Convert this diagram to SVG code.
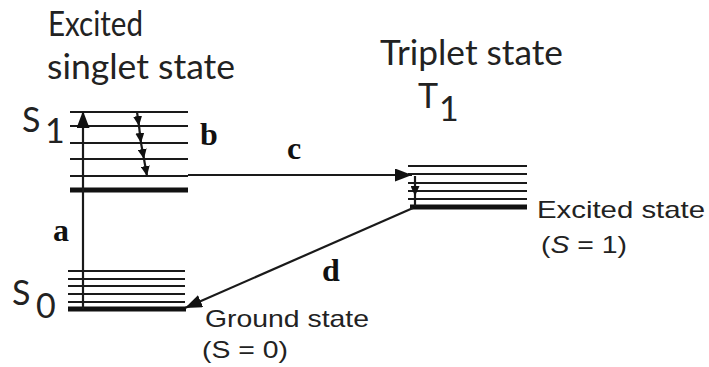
<svg xmlns="http://www.w3.org/2000/svg" width="709" height="367" viewBox="0 0 709 367">
<style>
.lvl{stroke:#1a1a1a;stroke-width:2.2;fill:none}
.thick{stroke:#111;stroke-width:5;fill:none}
.conn{stroke:#1a1a1a;stroke-width:2.2;fill:none}
.cal{font-family:Lato,"Open Sans",sans-serif;font-size:34px;fill:#222}
.ari{font-family:"Liberation Sans",Arial,sans-serif;font-size:24px;fill:#222}
.lab{font-family:"Liberation Serif","Times New Roman",serif;font-weight:bold;font-size:32px;fill:#111}
</style>
<defs>
<marker id="ah" markerUnits="userSpaceOnUse" markerWidth="17" markerHeight="13" refX="17" refY="6.5" orient="auto">
<path d="M0,0 L17,6.5 L0,13 z" fill="#111"/>
</marker>
<marker id="sh" markerUnits="userSpaceOnUse" markerWidth="10" markerHeight="9" refX="10" refY="4.5" orient="auto">
<path d="M0,0 L10,4.5 L0,9 z" fill="#111"/>
</marker>
</defs>
<rect width="709" height="367" fill="#fff"/>
<g id="title-singlet">
<text class="cal" x="48" y="36" textLength="95" lengthAdjust="spacingAndGlyphs">Excited</text>
<text class="cal" x="47" y="79" textLength="188" lengthAdjust="spacingAndGlyphs">singlet state</text>
</g>
<g id="title-triplet">
<text class="cal" x="380" y="65" textLength="183" lengthAdjust="spacingAndGlyphs">Triplet state</text>
<text class="cal" x="418" y="108">T</text>
<text class="cal" x="439" y="121">1</text>
</g>
<g id="S1">
<text class="cal" x="22" y="132">S</text>
<text class="cal" x="45" y="143">1</text>
<line class="lvl" x1="70" y1="112" x2="188" y2="112"/>
<line class="lvl" x1="70" y1="126" x2="188" y2="126"/>
<line class="lvl" x1="70" y1="143" x2="188" y2="143"/>
<line class="lvl" x1="70" y1="159" x2="188" y2="159"/>
<line class="lvl" x1="70" y1="176" x2="188" y2="176"/>
<line class="thick" x1="70" y1="190" x2="188" y2="190"/>
</g>
<g id="S0">
<text class="cal" x="12" y="305">S</text>
<text class="cal" x="36" y="318">0</text>
<line class="lvl" x1="68" y1="271" x2="185" y2="271"/>
<line class="lvl" x1="68" y1="279" x2="185" y2="279"/>
<line class="lvl" x1="68" y1="286" x2="185" y2="286"/>
<line class="lvl" x1="68" y1="294" x2="185" y2="294"/>
<line class="lvl" x1="68" y1="302" x2="185" y2="302"/>
<line class="thick" x1="68" y1="309" x2="186" y2="309"/>
</g>
<g id="T1">
<line class="lvl" x1="408" y1="166" x2="527" y2="166"/>
<line class="lvl" x1="408" y1="174" x2="527" y2="174"/>
<line class="lvl" x1="408" y1="183" x2="527" y2="183"/>
<line class="lvl" x1="408" y1="191" x2="527" y2="191"/>
<line class="lvl" x1="408" y1="199" x2="527" y2="199"/>
<line class="thick" x1="410" y1="207" x2="527" y2="207"/>
</g>
<g id="state-labels">
<text class="ari" x="537" y="218" textLength="168" lengthAdjust="spacingAndGlyphs">Excited state</text>
<text class="ari" x="541" y="253" textLength="86" lengthAdjust="spacingAndGlyphs">(<tspan font-style="italic">S</tspan> = 1)</text>
<text class="ari" x="205" y="327" textLength="164" lengthAdjust="spacingAndGlyphs">Ground state</text>
<text class="ari" x="202" y="358" textLength="86" lengthAdjust="spacingAndGlyphs">(S = 0)</text>
</g>
<g id="connectors">
<line class="conn" x1="83" y1="309" x2="83" y2="111" marker-end="url(#ah)"/>
<line class="conn" x1="137" y1="112" x2="139" y2="126" marker-end="url(#sh)"/>
<line class="conn" x1="139" y1="126" x2="141" y2="143" marker-end="url(#sh)"/>
<line class="conn" x1="141" y1="143" x2="144" y2="159" marker-end="url(#sh)"/>
<line class="conn" x1="144" y1="159" x2="147" y2="176" marker-end="url(#sh)"/>
<line class="conn" x1="188" y1="175" x2="412" y2="175" marker-end="url(#ah)"/>
<line class="conn" x1="415" y1="176" x2="415" y2="196" marker-end="url(#sh)"/>
<line class="conn" x1="415" y1="196" x2="415" y2="206"/>
<line class="conn" x1="413" y1="208" x2="185" y2="308" marker-end="url(#ah)"/>
<text class="lab" x="61" y="241" text-anchor="middle">a</text>
<text class="lab" x="209" y="145" text-anchor="middle">b</text>
<text class="lab" x="294" y="159" text-anchor="middle">c</text>
<text class="lab" x="331" y="281" text-anchor="middle">d</text>
</g>
</svg>
